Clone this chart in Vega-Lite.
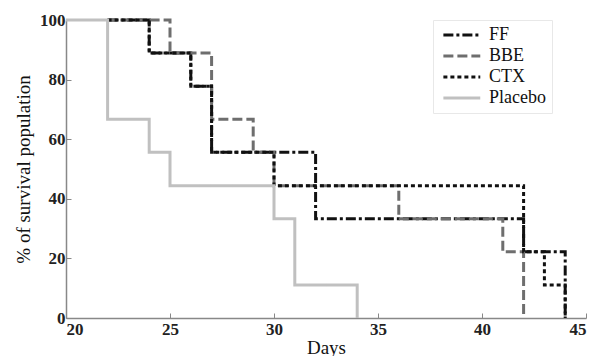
{
  "$schema": "https://vega.github.io/schema/vega-lite/v6.json",
  "width": 520,
  "height": 298,
  "autosize": {"type": "none"},
  "padding": {"left": 66, "top": 20, "right": 9, "bottom": 38},
  "background": "white",
  "config": {
    "view": {"stroke": null},
    "font": "Liberation Serif"
  },
  "data": {
    "values": [
      {"group": "FF", "day": 22, "survival": 100},
      {"group": "FF", "day": 24, "survival": 88.9},
      {"group": "FF", "day": 26, "survival": 77.8},
      {"group": "FF", "day": 27, "survival": 55.6},
      {"group": "FF", "day": 32, "survival": 33.3},
      {"group": "FF", "day": 42, "survival": 22.2},
      {"group": "FF", "day": 44, "survival": 0},
      {"group": "BBE", "day": 22, "survival": 100},
      {"group": "BBE", "day": 25, "survival": 88.9},
      {"group": "BBE", "day": 27, "survival": 66.7},
      {"group": "BBE", "day": 29, "survival": 55.6},
      {"group": "BBE", "day": 30, "survival": 44.4},
      {"group": "BBE", "day": 36, "survival": 33.3},
      {"group": "BBE", "day": 41, "survival": 22.2},
      {"group": "BBE", "day": 42, "survival": 0},
      {"group": "CTX", "day": 22, "survival": 100},
      {"group": "CTX", "day": 24, "survival": 88.9},
      {"group": "CTX", "day": 26, "survival": 77.8},
      {"group": "CTX", "day": 27, "survival": 55.6},
      {"group": "CTX", "day": 30, "survival": 44.4},
      {"group": "CTX", "day": 42, "survival": 22.2},
      {"group": "CTX", "day": 43, "survival": 11.1},
      {"group": "CTX", "day": 44, "survival": 0},
      {"group": "Placebo", "day": 20, "survival": 100},
      {"group": "Placebo", "day": 22, "survival": 66.7},
      {"group": "Placebo", "day": 24, "survival": 55.6},
      {"group": "Placebo", "day": 25, "survival": 44.4},
      {"group": "Placebo", "day": 30, "survival": 33.3},
      {"group": "Placebo", "day": 31, "survival": 11.1},
      {"group": "Placebo", "day": 34, "survival": 0}
    ]
  },
  "mark": {"type": "line", "interpolate": "step-after", "strokeWidth": 3, "clip": false},
  "encoding": {
    "x": {
      "field": "day", "type": "quantitative",
      "scale": {"domain": [20, 45], "nice": false, "zero": false},
      "axis": {
        "title": "Days", "values": [20, 25, 30, 35, 40, 45], "grid": false,
        "domainColor": "#888", "domainWidth": 1.5, "tickColor": "#888", "tickSize": -5,
        "labelFont": "Liberation Serif", "labelFontSize": 17, "labelFontWeight": "bold", "labelColor": "#222", "labelPadding": 8,
        "titleFont": "Liberation Serif", "titleFontSize": 19, "titleFontWeight": "normal", "titleColor": "#111", "titlePadding": 1
      }
    },
    "y": {
      "field": "survival", "type": "quantitative",
      "scale": {"domain": [0, 100], "nice": false},
      "axis": {
        "title": "% of survival population", "values": [0, 20, 40, 60, 80, 100], "grid": false,
        "domainColor": "#888", "domainWidth": 1.5, "tickColor": "#888", "tickSize": -5,
        "labelFont": "Liberation Serif", "labelFontSize": 17, "labelFontWeight": "bold", "labelColor": "#222", "labelPadding": 6,
        "titleFont": "Liberation Serif", "titleFontSize": 19, "titleFontWeight": "normal", "titleColor": "#111", "titlePadding": 6
      }
    },
    "color": {
      "field": "group", "type": "nominal",
      "scale": {"domain": ["FF", "BBE", "CTX", "Placebo"], "range": ["#111111", "#6e6e6e", "#111111", "#c0c0c0"]},
      "legend": {
        "title": null, "orient": "none", "legendX": 367, "legendY": 0,
        "symbolType": "M-1,0H7", "symbolSize": 85, "symbolStrokeWidth": 3, "symbolFillColor": "transparent",
        "labelFont": "Liberation Serif", "labelFontSize": 18, "labelColor": "#111", "labelOffset": 32,
        "labelExpr": "datum.label == 'Placebo' ? datum.label + '\u00a0\u00a0\u00a0\u00a0\u00a0\u00a0\u00a0' : datum.label",
        "rowPadding": 3, "padding": 6, "strokeColor": "#e8e8e8", "fillColor": "white"
      }
    },
    "strokeDash": {
      "field": "group", "type": "nominal",
      "scale": {"domain": ["FF", "BBE", "CTX", "Placebo"], "range": [[10, 3, 3, 3], [10, 4], [4, 3], [1, 0]]},
      "legend": null
    }
  }
}
